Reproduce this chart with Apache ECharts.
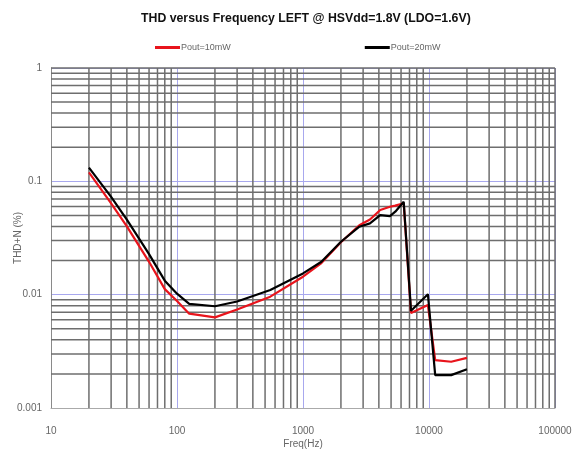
<!DOCTYPE html>
<html>
<head>
<meta charset="utf-8">
<script src="https://cdn.jsdelivr.net/npm/echarts@6/dist/echarts.min.js"></script>
<style>
html,body{margin:0;padding:0;background:#fff;}
#c{width:572px;height:452px;}
</style>
</head>
<body>
<div id="c"></div>
<script>
var freq = [20, 30, 40, 60, 80, 100, 125, 200, 300, 550, 1000, 1400, 2000, 2800, 3400, 4100, 4900, 5400, 6300, 7200, 9800, 11200, 15000, 20000];
var pout10mW = [0.12, 0.064, 0.040, 0.0195, 0.0112, 0.0088, 0.0068, 0.0063, 0.0074, 0.0096, 0.0144, 0.019, 0.029, 0.041, 0.046, 0.0558, 0.0597, 0.061, 0.064, 0.0069, 0.0081, 0.00265, 0.00256, 0.00277];
var pout20mW = [0.132, 0.073, 0.046, 0.0228, 0.0133, 0.0102, 0.0083, 0.0079, 0.0087, 0.011, 0.0154, 0.0195, 0.0293, 0.0398, 0.0426, 0.0504, 0.0494, 0.054, 0.066, 0.0072, 0.0101, 0.00195, 0.00195, 0.0022];
var xTicks = [10, 100, 1000, 10000, 100000];
var yTicks = [0.001, 0.01, 0.1, 1];
var seriesNames = ['Pout=10mW', 'Pout=20mW'];
var titleText = 'THD versus Frequency LEFT @ HSVdd=1.8V (LDO=1.6V)';

function minorLines(ticks) {
  var out = [];
  for (var i = 0; i < ticks.length - 1; i++) {
    for (var m = 2; m <= 9; m++) out.push(Number((ticks[i] * m).toPrecision(3)));
  }
  return out;
}
var xMinor = minorLines(xTicks);
var yMinor = minorLines(yTicks);

var X_MIN = xTicks[0], X_MAX = xTicks[xTicks.length - 1];
var Y_MIN = yTicks[0], Y_MAX = yTicks[yTicks.length - 1];

// grid-line items: [x, y, orientation]  (0 = horizontal at y, 1 = vertical at x)
var gridItems = [];
xMinor.forEach(function (v) { gridItems.push([v, Y_MAX, 1]); });
gridItems.push([X_MAX, Y_MAX, 1]);
yMinor.forEach(function (v) { gridItems.push([X_MIN, v, 0]); });
gridItems.push([X_MIN, Y_MAX, 0]);

function pairs(xs, ys) { return xs.map(function (x, i) { return [x, ys[i]]; }); }

var font = 'Liberation Sans, Arial, sans-serif';
var chart = echarts.init(document.getElementById('c'), null, { renderer: 'canvas' });
chart.setOption({
  animation: false,
  backgroundColor: '#ffffff',
  title: {
    text: titleText, left: 136, top: 8,
    textStyle: { fontFamily: font, fontSize: 12.3, fontWeight: 'bold', color: '#111' }
  },
  legend: {
    data: seriesNames, left: 150, top: 38, itemWidth: 25, itemHeight: 3, itemGap: 134,
    icon: 'rect',
    textStyle: { fontFamily: font, fontSize: 9, color: '#666', padding: [0, 0, 0, -4] }
  },
  grid: { left: 51, right: 17, top: 68, bottom: 44, containLabel: false, outerBoundsMode: 'none' },
  xAxis: {
    type: 'log', logBase: 10, min: X_MIN, max: X_MAX,
    name: 'Freq(Hz)', nameLocation: 'middle', nameGap: 31, nameMoveOverlap: false,
    nameTextStyle: { fontFamily: font, fontSize: 10, color: '#666' },
    axisLine: { show: true, onZero: false, lineStyle: { color: '#aaaaaa', width: 1 } },
    axisTick: { show: false },
    axisLabel: { margin: 18, fontFamily: font, fontSize: 10, color: '#666',
      formatter: function (v) { return String(Number(Number(v).toPrecision(3))); } },
    splitLine: { show: true, lineStyle: { color: '#a8a8ee', width: 1 } }
  },
  yAxis: {
    type: 'log', logBase: 10, min: Y_MIN, max: Y_MAX,
    name: 'THD+N (%)', nameLocation: 'middle', nameGap: 28, nameRotate: 90, nameMoveOverlap: false,
    nameTextStyle: { fontFamily: font, fontSize: 10, color: '#666' },
    axisLine: { show: true, onZero: false, lineStyle: { color: '#8a8a8a', width: 1 } },
    axisTick: { show: false },
    axisLabel: { margin: 9, fontFamily: font, fontSize: 10, color: '#666',
      formatter: function (v) { return String(Number(Number(v).toPrecision(3))); } },
    splitLine: { show: true, lineStyle: { color: '#a8a8ee', width: 1 } }
  },
  series: [
    {
      name: 'gridlines', type: 'custom', data: gridItems, z: 1, silent: true,
      encode: { x: 0, y: 1 },
      clip: false,
      renderItem: function (params, api) {
        var cs = params.coordSys;
        var orient = api.value(2);
        var p = api.coord([api.value(0), api.value(1)]);
        var shape = orient === 0
          ? { x1: cs.x, y1: p[1], x2: cs.x + cs.width, y2: p[1] }
          : { x1: p[0], y1: cs.y, x2: p[0], y2: cs.y + cs.height };
        return {
          type: 'line', shape: shape,
          style: { stroke: '#6e6e6e', lineWidth: 1.5 },
          silent: true
        };
      }
    },
    {
      name: seriesNames[0], type: 'line', data: pairs(freq, pout10mW), z: 3,
      showSymbol: false, symbol: 'none', smooth: false,
      lineStyle: { color: '#e8141c', width: 2.2 }, itemStyle: { color: '#e8141c' }
    },
    {
      name: seriesNames[1], type: 'line', data: pairs(freq, pout20mW), z: 4,
      showSymbol: false, symbol: 'none', smooth: false,
      lineStyle: { color: '#000000', width: 2.2 }, itemStyle: { color: '#000000' }
    }
  ]
});
</script>
</body>
</html>
